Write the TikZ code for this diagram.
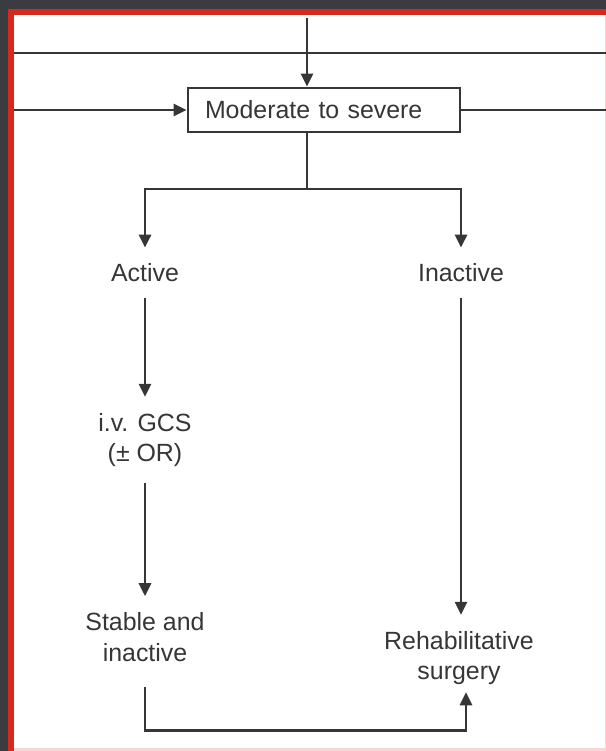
\documentclass[tikz,border=0pt]{standalone}
\usepackage{fontspec}
\setmainfont{Liberation Sans}
\usetikzlibrary{arrows.meta}
\definecolor{shell}{HTML}{3B3C41}
\definecolor{rim}{HTML}{D42A1E}
\definecolor{blush}{HTML}{F8D6D6}
\definecolor{ink}{HTML}{363636}

\begin{document}
\begin{tikzpicture}[x=1bp, y=-1bp,
    wire/.style = {-, line width = 2.8bp, draw = ink},
    flow/.style = {wire, -{Triangle[length = 13bp, width = 12bp]}},
    stage/.style = {text = ink, font = \fontsize{25}{31}\selectfont,
                    align = center, inner xsep = 2bp, inner ysep = 16bp},
    boxed/.style = {stage, draw = ink, line width = 2.8bp, align = left,
                    text width = 238bp, inner xsep = 17bp, inner ysep = 0bp,
                    minimum height = 44bp}]
      \useasboundingbox (0, 0) rectangle (606, 751);

      % frame
      % -----
      \fill [shell] (0, 0) rectangle (606, 751);
      \fill [rim] (8, 9) rectangle (606, 751);
      \fill [blush] (14, 15) rectangle (606, 751);
      \fill [white] (14, 15) rectangle (605, 748);

      % nodes
      % -----
      \node [boxed] (mod)   at (324, 110) {Moderate to severe};
      \node [stage] (act)   at (145, 273) {Active};
      \node [stage] (inact) at (461, 273) {Inactive};
      \node [stage] (gcs)   at (145, 440) {i.v. GCS\\(\textpm{} OR)};
      \node [stage] (stab)  at (145, 637) {Stable and\\inactive};
      \node [stage] (rehab) at (459, 658) {Rehabilitative\\surgery};

      \coordinate (top)   at (307, 18);
      \coordinate (westA) at (14, 53);
      \coordinate (eastA) at (606, 53);
      \coordinate (westB) at (14, 110);
      \coordinate (eastB) at (606, 110);
      \coordinate (split) at (307, 189);

      % lines in
      % --------
      \draw [wire] (westA) -- (eastA);
      \draw [flow] (top) -- (top |- mod.north);
      \draw [flow] (westB) -- (mod.west);
      \draw [wire] (mod.east) -- (eastB);

      % branches
      % --------
      \draw [wire] (split |- mod.south) -- (split);
      \draw [flow] (split) -| (act.north);
      \draw [flow] (split) -| (inact.north);

      \draw [flow] (act.south) -- (gcs.north);
      \draw [flow] (gcs.south) -- (stab.north);
      \draw [flow] (inact.south) -- (inact.south |- rehab.north);
      \draw [flow, shorten < = 9bp, shorten > = -9bp]
        (stab.south) --
        ++(0, 53) -|
        ([xshift = 7bp] rehab.south)
      ;
\end{tikzpicture}
\end{document}
